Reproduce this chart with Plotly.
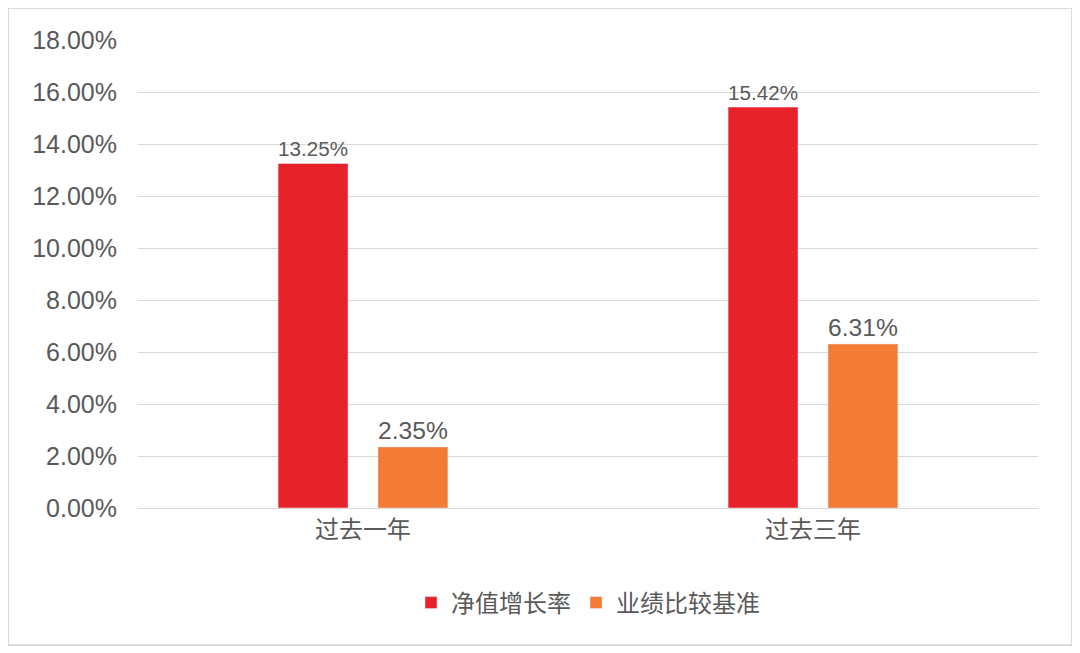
import plotly.graph_objects as go

categories = ["过去一年", "过去三年"]
nav_growth = [13.25, 15.42]
benchmark = [2.35, 6.31]
series_names = ["净值增长率", "业绩比较基准"]
tick_vals = [0, 2, 4, 6, 8, 10, 12, 14, 16, 18]
tick_text = [f"{v:.2f}%" for v in tick_vals]

font = "Liberation Sans, Noto Sans CJK SC"
grey = "#595959"

fig = go.Figure()
for name, vals, col in [(series_names[0], nav_growth, "#E8222A"), (series_names[1], benchmark, "#F47B36")]:
    fig.add_bar(x=categories, y=vals, name=name, marker_color=col,
                text=[f"{v:.2f}%" for v in vals], textposition="outside",
                textfont=dict(size=25, color=grey, family=font), cliponaxis=False)

fig.update_layout(
    width=1080, height=653, paper_bgcolor="white", plot_bgcolor="white",
    margin=dict(l=130, r=50, t=32, b=153),
    barmode="group", bargap=0.556, bargroupgap=0.3,
    font=dict(family=font, color=grey),
    legend=dict(orientation="h", x=0.5, xanchor="center", y=-0.203, yanchor="middle",
                font=dict(size=24, color=grey, family="Noto Sans CJK SC")),
    xaxis=dict(tickfont=dict(size=24, color=grey, family="Noto Sans CJK SC"), showline=True, linecolor="#d9d9d9", ticks=""),
    yaxis=dict(range=[0, 18], tickvals=tick_vals, ticktext=tick_text, showgrid=True,
               gridcolor="#d9d9d9", tickfont=dict(size=25, color=grey), zeroline=False,
               ticklen=15, ticks="outside", tickcolor="white"),
    shapes=[dict(type="rect", xref="paper", yref="paper", x0=-0.1444, x1=1.0378, y0=-0.2927, y1=1.0684,
                 line=dict(color="#d0d0d0", width=1.5))],
)
fig.write_html("out.html")
